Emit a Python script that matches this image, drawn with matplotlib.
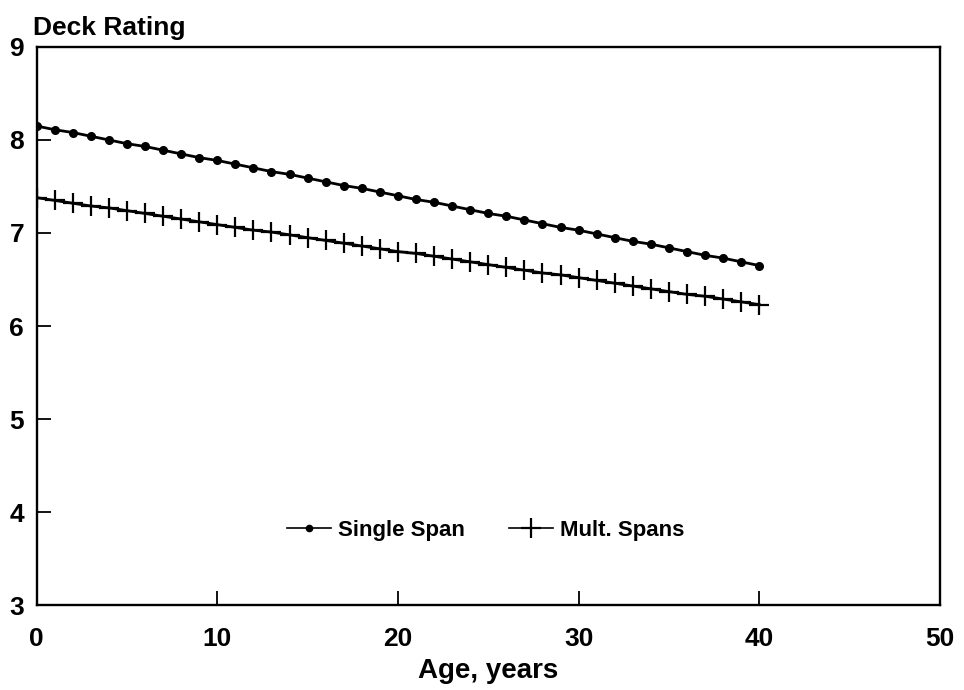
import matplotlib
matplotlib.use('Agg')
from matplotlib import pyplot as plt

plt.rcParams['font.family'] = ['Liberation Sans', 'DejaVu Sans']
plt.rcParams['font.weight'] = 'bold'

# Age in years and deck rating
age = list(range(0, 41))
single_span = [8.15, 8.11, 8.08, 8.04, 8.00, 7.96, 7.93, 7.89, 7.85, 7.81,
               7.78, 7.74, 7.70, 7.66, 7.63, 7.59, 7.55, 7.51, 7.48, 7.44,
               7.40, 7.36, 7.33, 7.29, 7.25, 7.21, 7.18, 7.14, 7.10, 7.06,
               7.03, 6.99, 6.95, 6.91, 6.88, 6.84, 6.80, 6.76, 6.73, 6.69,
               6.65]
mult_spans = [7.38, 7.35, 7.32, 7.29, 7.27, 7.24, 7.21, 7.18, 7.15, 7.12,
              7.09, 7.06, 7.03, 7.01, 6.98, 6.95, 6.92, 6.89, 6.86, 6.83,
              6.80, 6.78, 6.75, 6.72, 6.69, 6.66, 6.63, 6.60, 6.57, 6.55,
              6.52, 6.49, 6.46, 6.43, 6.40, 6.37, 6.34, 6.32, 6.29, 6.26,
              6.23]
x_ticks = [0, 10, 20, 30, 40, 50]
y_ticks = [3, 4, 5, 6, 7, 8, 9]

fig = plt.figure(figsize=(9.64, 6.9), dpi=100)
ax = fig.add_axes([0.038, 0.123, 0.937, 0.809])

ax.plot(age, single_span, color='black', lw=2, marker='o', ms=5.5,
        label='Single Span')
ax.plot(age, mult_spans, color='black', lw=2, marker='+', ms=15, mew=1.6,
        label='Mult. Spans')

ax.set_xlim(0, 50)
ax.set_ylim(3, 9)
ax.set_xticks(x_ticks)
ax.set_yticks(y_ticks)
ax.tick_params(direction='in', length=10, width=1.3, labelsize=19,
               top=False, right=False)
ax.tick_params(axis='x', pad=16)
ax.tick_params(axis='y', pad=9)
for lab in ax.get_xticklabels() + ax.get_yticklabels():
    lab.set_fontweight('bold')
for sp in ax.spines.values():
    sp.set_linewidth(1.7)

ax.set_xlabel('Age, years', fontsize=20, fontweight='bold', labelpad=5)
fig.text(0.034, 0.96, 'Deck Rating', fontsize=19, fontweight='bold',
         ha='left', va='center')

leg = ax.legend(loc='lower center', bbox_to_anchor=(0.497, 0.079), ncol=2,
                frameon=False, fontsize=16, handlelength=2.0,
                columnspacing=2.0, handletextpad=0.3)
for t in leg.get_texts():
    t.set_fontweight('bold')
for h in leg.legend_handles:
    h.set_linewidth(1.2)
leg.legend_handles[0].set_markersize(4.5)

fig.savefig('out.png', dpi=100)
